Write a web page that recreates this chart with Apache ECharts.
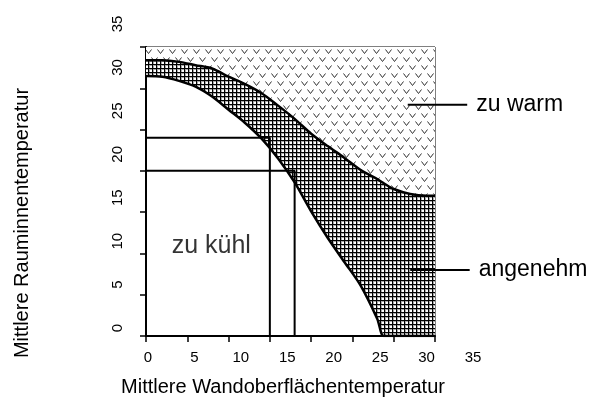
<!DOCTYPE html>
<html>
<head>
<meta charset="utf-8">
<script src="https://cdn.jsdelivr.net/npm/echarts@6/dist/echarts.min.js"></script>
<style>html,body{margin:0;padding:0;background:#fff}#c{width:595px;height:416px}</style>
</head>
<body>
<div id="c"></div>
<script>
// Data (x = Wandoberflächentemperatur, y = Rauminnentemperatur)
const xs      = [0, 2, 4, 6, 8, 10, 12, 14, 16, 18, 20, 22, 24, 26, 28, 28.8, 30, 32, 34, 35];
const upper   = [33.4, 33.4, 33.2, 32.8, 32.4, 31.4, 30.5, 29.4, 27.9, 26.3, 24.5, 23.0, 21.6, 20.1, 19.0, 18.5, 17.8, 17.2, 17.0, 17.0];
const lower   = [31.5, 31.4, 30.9, 30.2, 29.0, 27.4, 25.8, 23.9, 21.5, 18.6, 15.1, 11.9, 9.0, 6.1, 2.1, 0, 0, 0, 0, 0];
const guide1  = [[0, 24], [15, 24], [15, 0]];
const guide2  = [[0, 20], [18, 20], [18, 0]];
const pointerNames = ['zu warm', 'angenehm'];
const pointerFrom  = [[31.7, 28], [32, 8]];
const pointerTo    = [[38.9, 28], [39.2, 8]];
const coolLabelPos = [7.9, 10.9];
const tickLabels = ['0', '5', '10', '15', '20', '25', '30', '35'];
const xTitle = 'Mittlere Wandoberflächentemperatur';
const yTitle = 'Mittlere Rauminnentemperatur';

const FONT = "'Liberation Sans', Arial, sans-serif";

function gridPattern() {
  const c = document.createElement('canvas'); c.width = 4; c.height = 4;
  const g = c.getContext('2d');
  g.fillStyle = '#fff'; g.fillRect(0, 0, 4, 4);
  g.fillStyle = '#aaa';
  g.fillRect(0, 1, 4, 1); g.fillRect(1, 0, 1, 4);
  g.fillStyle = '#000';
  g.fillRect(0, 0, 4, 1); g.fillRect(0, 0, 1, 4);
  return c;
}
function vPattern() {
  const c = document.createElement('canvas'); c.width = 12; c.height = 16;
  const g = c.getContext('2d');
  g.fillStyle = '#fff'; g.fillRect(0, 0, 12, 16);
  g.strokeStyle = '#333'; g.lineWidth = 1;
  g.beginPath();
  g.moveTo(1.5, 1.5); g.lineTo(4.5, 5.5); g.lineTo(7.5, 1.5);
  g.moveTo(7.5, 9.5); g.lineTo(10.5, 13.5); g.lineTo(13.5, 9.5);
  g.moveTo(-4.5, 9.5); g.lineTo(-1.5, 13.5); g.lineTo(1.5, 9.5);
  g.stroke();
  return c;
}
const gridPat = {image: gridPattern(), repeat: 'repeat'};
const vPat = {image: vPattern(), repeat: 'repeat'};

const pair = (a) => xs.map((x, i) => [x, a[i]]);

const chart = echarts.init(document.getElementById('c'), null, {renderer: 'canvas'});
const axisCommon = {type: 'value', min: 0, max: 35, interval: 5, splitLine: {show: false}};
const tickFmt = (v) => tickLabels[Math.round(v / 5)];

chart.setOption({
  backgroundColor: '#fff',
  animation: false,
  grid: [
    {left: 146, top: 47, width: 289, height: 289, show: true, borderColor: '#000', borderWidth: 1},
    {left: 148, top: 24, width: 325, height: 304, show: false}
  ],
  xAxis: [
    Object.assign({}, axisCommon, {gridIndex: 0,
      axisLine: {show: true, onZero: false, lineStyle: {color: '#000', width: 2}},
      axisTick: {show: true, length: 6, lineStyle: {color: '#000', width: 1.5}},
      axisLabel: {show: false}}),
    Object.assign({}, axisCommon, {gridIndex: 1,
      axisLine: {show: false}, axisTick: {show: false},
      axisLabel: {show: true, margin: 22, fontSize: 15, color: '#000', fontFamily: FONT, formatter: tickFmt}})
  ],
  yAxis: [
    Object.assign({}, axisCommon, {gridIndex: 0,
      axisLine: {show: true, onZero: false, lineStyle: {color: '#000', width: 2}},
      axisTick: {show: true, length: 6, lineStyle: {color: '#000', width: 1.5}},
      axisLabel: {show: false}}),
    Object.assign({}, axisCommon, {gridIndex: 1,
      axisLine: {show: false}, axisTick: {show: false},
      axisLabel: {show: true, margin: 23, rotate: 90, fontSize: 15, color: '#000', fontFamily: FONT, formatter: tickFmt}})
  ],
  series: [
    { // zu warm region
      type: 'custom', xAxisIndex: 0, yAxisIndex: 0, data: [[0, 0]], silent: true, z: 1,
      renderItem: (p, api) => ({
        type: 'polygon',
        shape: {points: xs.map((x, i) => api.coord([x, upper[i]])).concat([api.coord([35, 35]), api.coord([0, 35])])},
        style: {fill: vPat}
      })
    },
    { // angenehm region
      type: 'custom', xAxisIndex: 0, yAxisIndex: 0, data: [[0, 0]], silent: true, z: 1,
      renderItem: (p, api) => ({
        type: 'polygon',
        shape: {points: xs.map((x, i) => api.coord([x, upper[i]]))
          .concat(xs.map((x, i) => api.coord([x, lower[i]])).reverse())},
        style: {fill: gridPat}
      })
    },
    {name: 'Grenze warm', type: 'line', data: pair(upper), symbol: 'none', smooth: 0.3,
      lineStyle: {color: '#000', width: 2.5}, z: 4},
    {name: 'Grenze kühl', type: 'line', data: pair(lower), symbol: 'none', smooth: 0.3,
      lineStyle: {color: '#000', width: 2.5}, z: 4},
    {type: 'line', data: guide1, symbol: 'none', lineStyle: {color: '#000', width: 2}, z: 5},
    {type: 'line', data: guide2, symbol: 'none', lineStyle: {color: '#000', width: 2}, z: 5},
    { // pointers with labels
      type: 'custom', xAxisIndex: 0, yAxisIndex: 0, data: pointerNames.map((n, i) => [i]), silent: true, z: 6, clip: false,
      renderItem: (p, api) => {
        const i = p.dataIndex;
        const a = api.coord(pointerFrom[i]), b = api.coord(pointerTo[i]);
        return {type: 'group', children: [
          {type: 'line', shape: {x1: a[0], y1: a[1], x2: b[0], y2: b[1]}, style: {stroke: '#000', lineWidth: 2}},
          {type: 'text', x: b[0] + 9, y: b[1], style: {text: pointerNames[i], fontSize: 23, fontFamily: FONT, fill: '#000', textAlign: 'left', textVerticalAlign: 'middle'}}
        ]};
      }
    },
    {
      type: 'scatter', data: [coolLabelPos], symbolSize: 0, z: 6,
      label: {show: true, position: 'inside', formatter: 'zu kühl', fontSize: 25, color: '#000', fontFamily: FONT}
    }
  ],
  graphic: [
    {type: 'text', x: 283, y: 387, style: {text: xTitle, fontSize: 20, fontFamily: FONT, fill: '#000', textAlign: 'center', textVerticalAlign: 'middle'}},
    {type: 'text', x: 22, y: 223, rotation: Math.PI / 2, style: {text: yTitle, fontSize: 20, fontFamily: FONT, fill: '#000', textAlign: 'center', textVerticalAlign: 'middle'}}
  ]
});
</script>
</body>
</html>
